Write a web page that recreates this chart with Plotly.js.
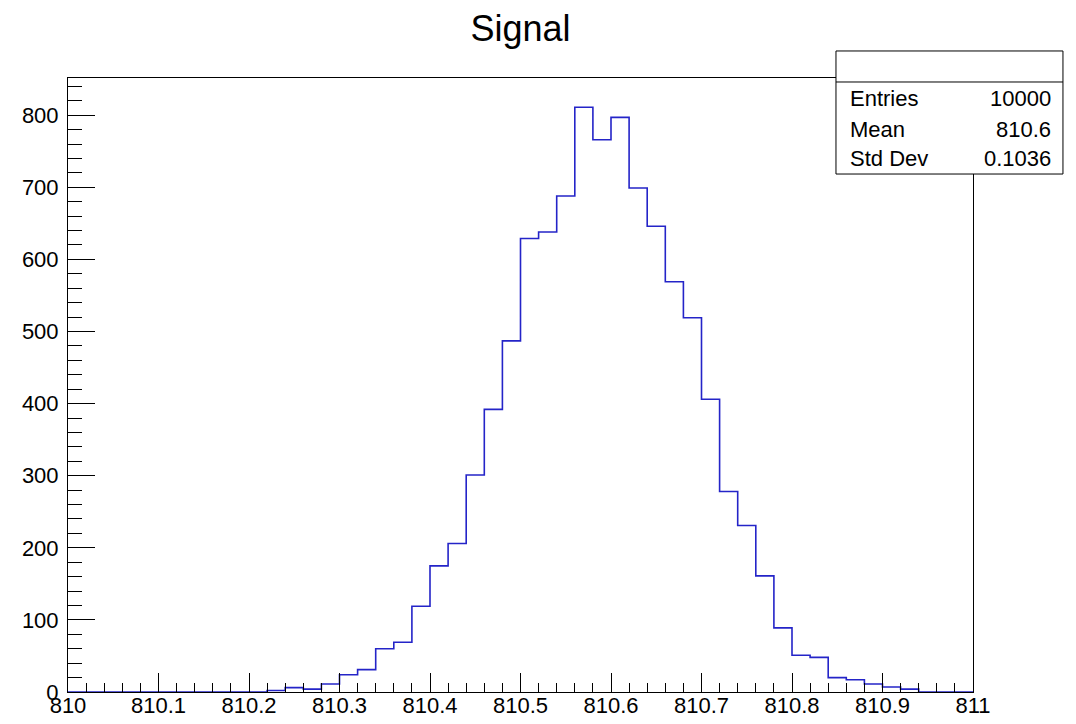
<!DOCTYPE html>
<html>
<head>
<meta charset="utf-8">
<script src="https://cdn.plot.ly/plotly-3.0.1.min.js"></script>
<style>html,body{margin:0;padding:0;background:#fff;}#chart{width:1076px;height:724px;}</style>
</head>
<body>
<div id="chart"></div>
<script>
// ---- data ----
const chartTitle = 'Signal';
const binStart = 810.0;
const binWidth = 0.02;
// bin contents for 50 bins from 810.00 to 811.00
const counts = [
  0, 0, 0, 0, 0, 0, 0, 0, 0, 0,
  0, 2, 6, 4, 11, 24, 31, 60, 69, 119,
  175, 206, 301, 392, 487, 629, 638, 688, 811, 766,
  797, 699, 646, 569, 519, 406, 278, 231, 161, 89,
  51, 48, 20, 17, 11, 7, 4, 0, 0, 0
];
const statLabels = ['Entries', 'Mean', 'Std Dev'];
const statValues = ['10000', '810.6', '0.1036'];
const xRange = [810, 811];
const yMax = 851.6;

// ---- build step outline (bin edges derived from binning) ----
const xs = [], ys = [];
for (let i = 0; i < counts.length; i++) {
  xs.push(+(binStart + i * binWidth).toFixed(4));
  ys.push(counts[i]);
}
xs.push(+(binStart + counts.length * binWidth).toFixed(4));
ys.push(counts[counts.length - 1]);

const font = 'Liberation Sans, Arial, Helvetica, sans-serif';

const trace = {
  type: 'scatter', mode: 'lines', x: xs, y: ys,
  line: {shape: 'hv', color: '#2424c8', width: 1.6},
  hoverinfo: 'x+y', showlegend: false
};

// stats box geometry (paper coords)
const bx0 = 0.8486, bx1 = 1.0994, byTop = 1.044, byDiv = 0.9935, byBot = 0.8436;
const rowY = [0.9658, 0.9169, 0.8697];

const shapes = [
  {type: 'rect', xref: 'paper', yref: 'paper', x0: bx0, x1: bx1, y0: byBot, y1: byTop,
   line: {color: 'black', width: 1}, fillcolor: 'white', layer: 'above'},
  {type: 'line', xref: 'paper', yref: 'paper', x0: bx0, x1: bx1, y0: byDiv, y1: byDiv,
   line: {color: 'black', width: 1}, layer: 'above'}
];
const annotations = [];
statLabels.forEach((lab, i) => {
  annotations.push({xref: 'paper', yref: 'paper', x: 0.8619, y: rowY[i], xanchor: 'left', yanchor: 'middle',
    text: lab, showarrow: false, font: {family: font, size: 22, color: 'black'}});
  annotations.push({xref: 'paper', yref: 'paper', x: 1.0884, y: rowY[i], xanchor: 'right', yanchor: 'middle',
    text: statValues[i], showarrow: false, font: {family: font, size: 22, color: 'black'}});
});

const layout = {
  width: 1076, height: 724,
  margin: {l: 68, r: 103, t: 78, b: 32, pad: 0},
  paper_bgcolor: 'white', plot_bgcolor: 'white',
  font: {family: font, color: 'black'},
  title: {text: chartTitle, x: 0.5, xref: 'paper', xanchor: 'center',
          y: 1 - 28 / 724, yref: 'container', yanchor: 'middle',
          font: {family: font, size: 36, color: 'black'}},
  xaxis: {
    range: xRange, dtick: 0.1, tick0: 810, ticks: 'inside', ticklen: 19, tickwidth: 1, tickcolor: 'black',
    showline: true, linecolor: 'black', linewidth: 1, mirror: true,
    showgrid: false, zeroline: false, tickfont: {family: font, size: 22, color: 'black'},
    ticklabelstandoff: -6,
    minor: {dtick: 0.02, ticks: 'inside', ticklen: 9, tickcolor: 'black', tickwidth: 1, showgrid: false}
  },
  yaxis: {
    range: [0, yMax], dtick: 100, tick0: 0, ticks: 'inside', ticklen: 27, tickwidth: 1, tickcolor: 'black',
    showline: true, linecolor: 'black', linewidth: 1, mirror: true,
    showgrid: false, zeroline: false, tickfont: {family: font, size: 22, color: 'black'},
    ticklabelstandoff: 4,
    minor: {dtick: 20, ticks: 'inside', ticklen: 14, tickcolor: 'black', tickwidth: 1, showgrid: false}
  },
  shapes: shapes,
  annotations: annotations
};

Plotly.newPlot('chart', [trace], layout, {displayModeBar: false, staticPlot: true});
</script>
</body>
</html>
